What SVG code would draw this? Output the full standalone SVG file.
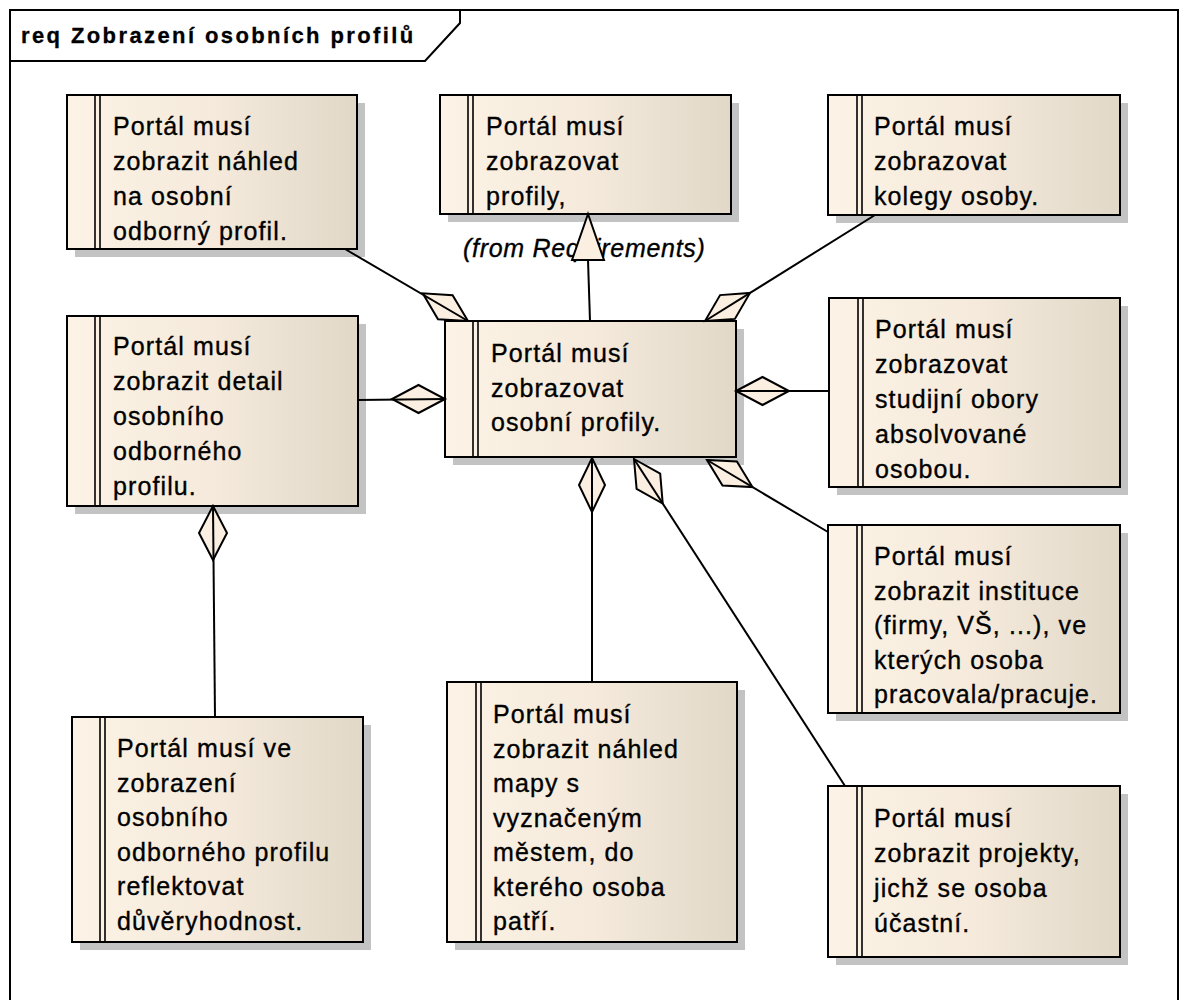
<svg xmlns="http://www.w3.org/2000/svg" width="1182" height="1000" viewBox="0 0 1182 1000">
  <defs>
    <linearGradient id="reqFill" x1="0" y1="0" x2="1" y2="0">
      <stop offset="0" stop-color="#fcf3e6"/>
      <stop offset="0.5" stop-color="#f5eadb"/>
      <stop offset="1" stop-color="#e1d8c8"/>
    </linearGradient>
    <style>
      .frame { fill: none; stroke: #000; stroke-width: 2; }
      .title { font-family: "Liberation Sans", Arial, sans-serif; font-weight: bold; font-size: 22px; letter-spacing: 2.4px; fill: #000; stroke: #000; stroke-width: 0.3px; }
      .shadow { fill: #c3c3c3; }
      .box { fill: url(#reqFill); stroke: #000; stroke-width: 2; }
      .stripe { stroke: #000; stroke-width: 1.6; }
      .label { font-family: "Liberation Sans", Arial, sans-serif; font-size: 25px; letter-spacing: 1.1px; fill: #000; stroke: #000; stroke-width: 0.35px; }
      .from { font-family: "Liberation Sans", Arial, sans-serif; font-size: 25px; font-style: italic; letter-spacing: 0.7px; fill: #000; stroke: #000; stroke-width: 0.35px; }
      .edge { fill: none; stroke: #000; stroke-width: 2; }
      .diamond { fill: #faefe0; stroke: #000; stroke-width: 2; stroke-linejoin: miter; }
      .tri { fill: #faefe0; stroke: #000; stroke-width: 2; }
    </style>
  </defs>

  <rect x="0" y="0" width="1182" height="1000" fill="#fff"/>

  <!-- diagram frame with name tab -->
  <g id="frame">
    <rect class="frame" x="10" y="10" width="1168" height="1010"/>
    <polyline class="frame" points="10,61 425,61 460,23 460,10"/>
    <text class="title" x="21" y="43">req Zobrazení osobních profilů</text>
  </g>

  <!-- package note of the generalization target -->
  <text class="from" x="463" y="257">(from Requirements)</text>

  <!-- requirement nodes -->
  <g id="req-nahled-profil">
    <rect class="shadow" x="75" y="103" width="290" height="154"/>
    <rect class="box" x="67" y="95" width="290" height="154"/>
    <line class="stripe" x1="95" y1="95" x2="95" y2="249"/>
    <line class="stripe" x1="100" y1="95" x2="100" y2="249"/>
    <text class="label" x="113" y="135"><tspan x="113">Portál musí</tspan><tspan x="113" dy="35">zobrazit náhled</tspan><tspan x="113" dy="35">na osobní</tspan><tspan x="113" dy="35">odborný profil.</tspan></text>
  </g>

  <g id="req-profily">
    <rect class="shadow" x="448" y="103" width="291" height="119"/>
    <rect class="box" x="440" y="95" width="291" height="119"/>
    <line class="stripe" x1="468" y1="95" x2="468" y2="214"/>
    <line class="stripe" x1="473" y1="95" x2="473" y2="214"/>
    <text class="label" x="486" y="135"><tspan x="486">Portál musí</tspan><tspan x="486" dy="35">zobrazovat</tspan><tspan x="486" dy="35">profily,</tspan></text>
  </g>

  <g id="req-kolegove">
    <rect class="shadow" x="836" y="103" width="292" height="120"/>
    <rect class="box" x="828" y="95" width="292" height="120"/>
    <line class="stripe" x1="857" y1="95" x2="857" y2="215"/>
    <line class="stripe" x1="862" y1="95" x2="862" y2="215"/>
    <text class="label" x="874" y="135"><tspan x="874">Portál musí</tspan><tspan x="874" dy="35">zobrazovat</tspan><tspan x="874" dy="35">kolegy osoby.</tspan></text>
  </g>

  <g id="req-osobni-profily">
    <rect class="shadow" x="453" y="329" width="291" height="136"/>
    <rect class="box" x="445" y="321" width="291" height="136"/>
    <line class="stripe" x1="473" y1="321" x2="473" y2="457"/>
    <line class="stripe" x1="478" y1="321" x2="478" y2="457"/>
    <text class="label" x="491" y="362"><tspan x="491">Portál musí</tspan><tspan x="491" dy="34.5">zobrazovat</tspan><tspan x="491" dy="34.5">osobní profily.</tspan></text>
  </g>

  <g id="req-detail-profil">
    <rect class="shadow" x="75" y="324" width="291" height="190"/>
    <rect class="box" x="67" y="316" width="291" height="190"/>
    <line class="stripe" x1="95" y1="316" x2="95" y2="506"/>
    <line class="stripe" x1="100" y1="316" x2="100" y2="506"/>
    <text class="label" x="113" y="355"><tspan x="113">Portál musí</tspan><tspan x="113" dy="35">zobrazit detail</tspan><tspan x="113" dy="35">osobního</tspan><tspan x="113" dy="35">odborného</tspan><tspan x="113" dy="35">profilu.</tspan></text>
  </g>

  <g id="req-studijni-obory">
    <rect class="shadow" x="837" y="306" width="291" height="189"/>
    <rect class="box" x="829" y="298" width="291" height="189"/>
    <line class="stripe" x1="858" y1="298" x2="858" y2="487"/>
    <line class="stripe" x1="863" y1="298" x2="863" y2="487"/>
    <text class="label" x="875" y="338"><tspan x="875">Portál musí</tspan><tspan x="875" dy="35">zobrazovat</tspan><tspan x="875" dy="35">studijní obory</tspan><tspan x="875" dy="35">absolvované</tspan><tspan x="875" dy="35">osobou.</tspan></text>
  </g>

  <g id="req-instituce">
    <rect class="shadow" x="836" y="533" width="292" height="188"/>
    <rect class="box" x="828" y="525" width="292" height="188"/>
    <line class="stripe" x1="857" y1="525" x2="857" y2="713"/>
    <line class="stripe" x1="862" y1="525" x2="862" y2="713"/>
    <text class="label" x="874" y="565"><tspan x="874">Portál musí</tspan><tspan x="874" dy="34.5">zobrazit instituce</tspan><tspan x="874" dy="34.5">(firmy, VŠ, ...), ve</tspan><tspan x="874" dy="34.5">kterých osoba</tspan><tspan x="874" dy="34.5">pracovala/pracuje.</tspan></text>
  </g>

  <g id="req-projekty">
    <rect class="shadow" x="836" y="794" width="292" height="171"/>
    <rect class="box" x="828" y="786" width="292" height="171"/>
    <line class="stripe" x1="857" y1="786" x2="857" y2="957"/>
    <line class="stripe" x1="862" y1="786" x2="862" y2="957"/>
    <text class="label" x="874" y="827"><tspan x="874">Portál musí</tspan><tspan x="874" dy="35">zobrazit projekty,</tspan><tspan x="874" dy="35">jichž se osoba</tspan><tspan x="874" dy="35">účastní.</tspan></text>
  </g>

  <g id="req-duveryhodnost">
    <rect class="shadow" x="80" y="725" width="291" height="225"/>
    <rect class="box" x="72" y="717" width="291" height="225"/>
    <line class="stripe" x1="100" y1="717" x2="100" y2="942"/>
    <line class="stripe" x1="105" y1="717" x2="105" y2="942"/>
    <text class="label" x="117" y="757"><tspan x="117">Portál musí ve</tspan><tspan x="117" dy="34.6">zobrazení</tspan><tspan x="117" dy="34.6">osobního</tspan><tspan x="117" dy="34.6">odborného profilu</tspan><tspan x="117" dy="34.6">reflektovat</tspan><tspan x="117" dy="34.6">důvěryhodnost.</tspan></text>
  </g>

  <g id="req-mapa">
    <rect class="shadow" x="455" y="690" width="290" height="260"/>
    <rect class="box" x="447" y="682" width="290" height="260"/>
    <line class="stripe" x1="476" y1="682" x2="476" y2="942"/>
    <line class="stripe" x1="481" y1="682" x2="481" y2="942"/>
    <text class="label" x="493" y="723"><tspan x="493">Portál musí</tspan><tspan x="493" dy="34.5">zobrazit náhled</tspan><tspan x="493" dy="34.5">mapy s</tspan><tspan x="493" dy="34.5">vyznačeným</tspan><tspan x="493" dy="34.5">městem, do</tspan><tspan x="493" dy="34.5">kterého osoba</tspan><tspan x="493" dy="34.5">patří.</tspan></text>
  </g>

  <!-- connectors: aggregations into the central requirement, one generalization -->
  <g id="connectors">
    <polygon class="diamond" points="468,321 452.6,295.2 422.7,293.3 438,319.2"/>
    <line class="edge" x1="345" y1="249" x2="468" y2="321"/>

    <polygon class="diamond" points="705,321 734.9,318.9 750,293 720.1,295.1"/>
    <line class="edge" x1="875" y1="215" x2="705" y2="321"/>

    <polygon class="diamond" points="445,399 418.5,413 392,399 418.5,385"/>
    <line class="edge" x1="358" y1="400" x2="445" y2="399"/>

    <polygon class="diamond" points="736,391 762.5,377 789,391 762.5,405"/>
    <line class="edge" x1="736" y1="391" x2="829" y2="391"/>

    <polygon class="diamond" points="592,458 605,485 592,512 579,485"/>
    <line class="edge" x1="592" y1="458" x2="592" y2="682"/>

    <polygon class="diamond" points="634,459 660.2,473.7 662.7,503.5 636.6,488.9"/>
    <line class="edge" x1="634" y1="459" x2="845" y2="786"/>

    <polygon class="diamond" points="707,460 736.9,461.5 752.5,487.1 722.5,485.5"/>
    <line class="edge" x1="707" y1="460" x2="828" y2="532"/>

    <polygon class="diamond" points="213,506 227,533 213,560 199,533"/>
    <line class="edge" x1="213" y1="506" x2="215" y2="717"/>

    <line class="edge" x1="590" y1="321" x2="588" y2="260"/>
    <polygon class="tri" points="588,214 572,260 604,260"/>
  </g>
</svg>
